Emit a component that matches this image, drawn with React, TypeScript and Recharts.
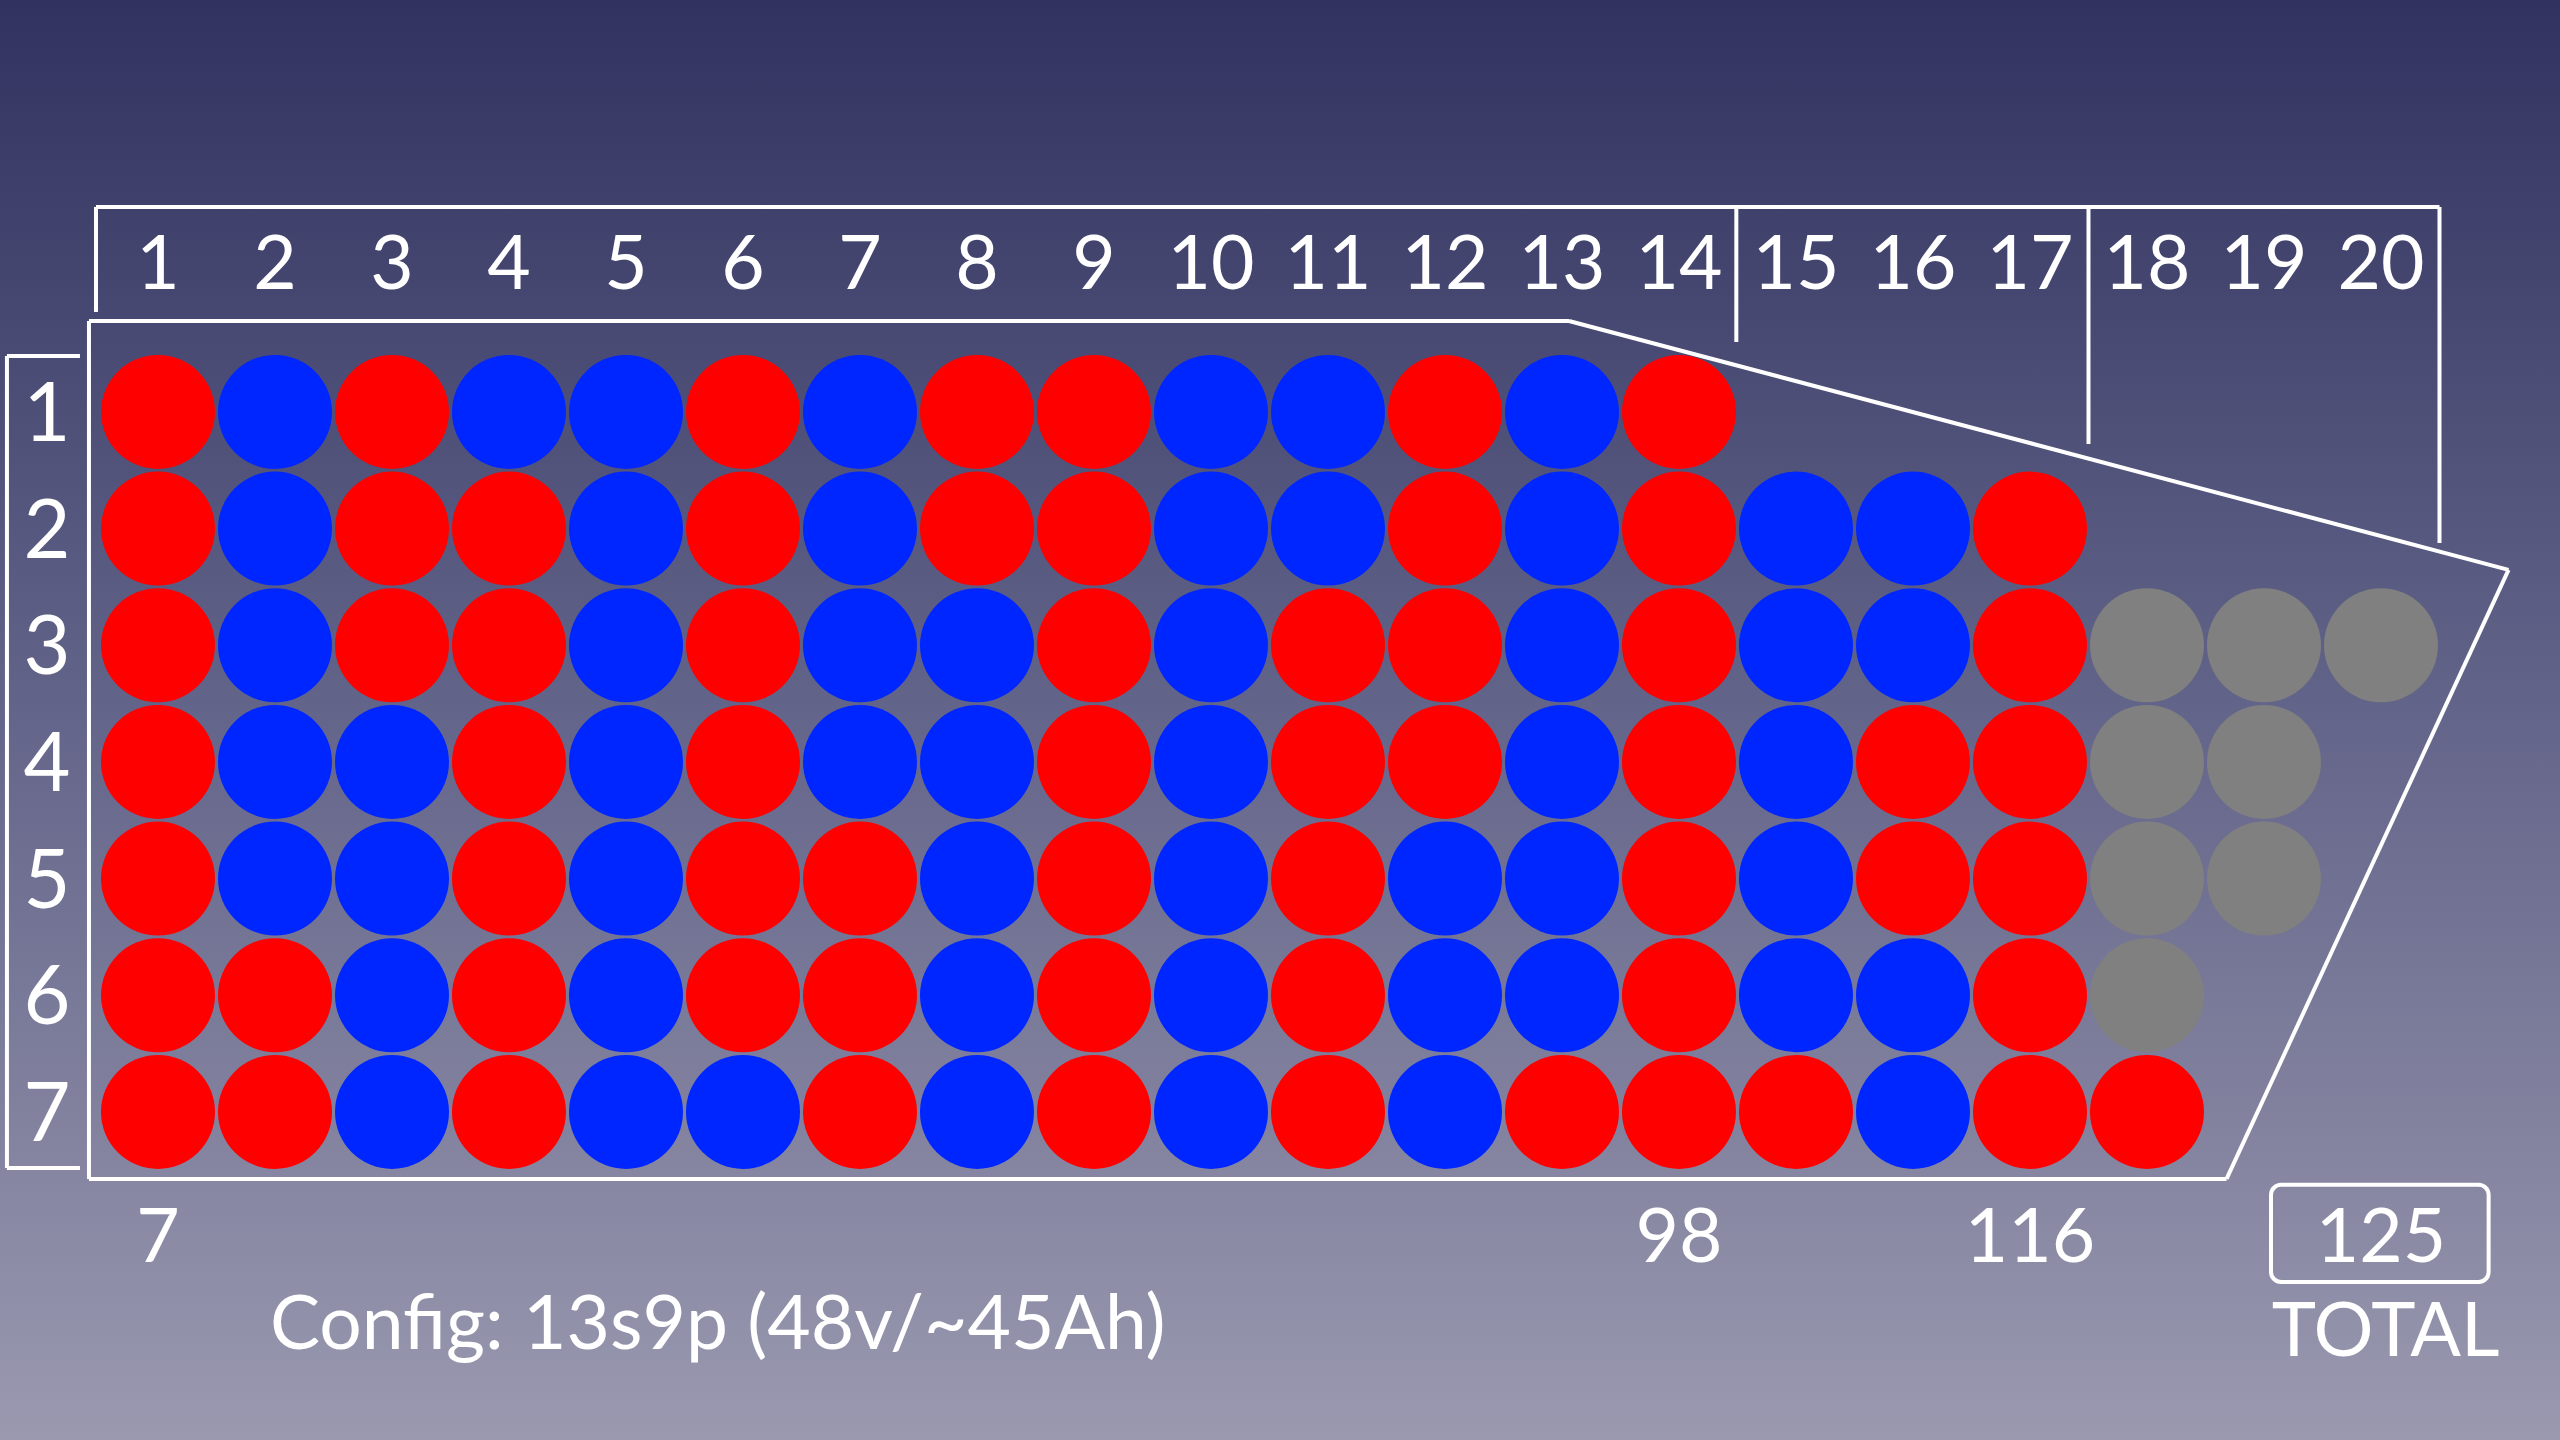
import { ScatterChart, Scatter, XAxis, YAxis, ReferenceLine, ReferenceArea } from "recharts"

const columns = [1, 2, 3, 4, 5, 6, 7, 8, 9, 10, 11, 12, 13, 14, 15, 16, 17, 18, 19, 20]
const rowNumbers = [1, 2, 3, 4, 5, 6, 7]

// R = red cell, B = blue cell, G = grey (empty slot)
const cellRows = [
  "RBRBBRBRRBBRBR",
  "RBRRBRBRRBBRBRBBR",
  "RBRRBRBBRBRRBRBBRGGG",
  "RBBRBRBBRBRRBRBRRGG",
  "RBBRBRRBRBRBBRBRRGG",
  "RRBRBRRBRBRBBRBBRG",
  "RRBRBBRBRBRBRRRBRR",
]

const runningTotals = [
  { col: 1, label: "7" },
  { col: 14, label: "98" },
  { col: 17, label: "116" },
  { col: 20, label: "125" },
]

const colors: Record<string, string> = { R: "#ff0000", B: "#0026ff", G: "#808080" }

// grid units: one column / one row apart
const X_DOMAIN = [-0.3504, 21.53]
const Y_DOMAIN = [-2.531, 9.812]

const W = 2560
const H = 1440
const FONT = "Lato, 'Open Sans', sans-serif"

const cells = cellRows.flatMap((row, r) =>
  row.split("").map((kind, c) => ({ x: c + 1, y: r + 1, kind }))
)
const colLabels = columns.map((c) => ({ x: c, y: -0.286, label: String(c), size: 75 }))
const rowLabels = rowNumbers.map((r) => ({ x: 0.051, y: r, label: String(r), size: 81 }))
const totalLabels = runningTotals.map((t) => ({ x: t.col, y: 8.054, label: t.label, size: 75 }))
const extraLabels = [
  { x: 20.04, y: 8.86, label: "TOTAL", size: 75, anchor: "middle" },
  { x: 1.957, y: 8.8, label: "Config: 13s9p (48v/~45Ah)", size: 75, anchor: "start" },
]

// outline of the pack and brackets, in grid units
const outline = [
  [0.41, 0.22], [13.06, 0.22], [21.09, 2.354], [18.68, 7.574], [0.41, 7.574], [0.41, 0.22],
]
const topBracket = [
  [[0.47, 0.143], [0.47, -0.757]],
  [[0.47, -0.757], [20.5, -0.757]],
  [[14.49, -0.757], [14.49, 0.4]],
  [[17.5, -0.757], [17.5, 1.274]],
  [[20.5, -0.757], [20.5, 2.123]],
]
const rowBracket = [
  [[0.333, 0.52], [-0.291, 0.52]],
  [[-0.291, 0.52], [-0.291, 7.48]],
  [[-0.291, 7.48], [0.333, 7.48]],
]

const segments = [
  ...outline.slice(1).map((p, i) => [outline[i], p]),
  ...topBracket,
  ...rowBracket,
]

const TextShape = (props: any) => {
  const { cx, cy, payload } = props
  return (
    <text
      x={cx}
      y={cy}
      dy={payload.size * 0.36}
      textAnchor={payload.anchor || "middle"}
      fill="#ffffff"
      fontSize={payload.size}
      fontFamily={FONT}
    >
      {payload.label}
    </text>
  )
}

const CellShape = (props: any) => {
  const { cx, cy, payload } = props
  return <circle cx={cx} cy={cy} r={57} fill={colors[payload.kind]} />
}

const TotalBox = (props: any) => {
  const { x, y, width, height } = props
  return (
    <rect x={x} y={y} width={width} height={height} rx={10} ry={10} fill="none" stroke="#ffffff" strokeWidth={4} />
  )
}

export default function App() {
  return (
    <div
      style={{
        width: W,
        height: H,
        background: "linear-gradient(to bottom, #31325f 0%, #64658a 50%, #9a99b0 100%)",
      }}
    >
      <style>{`body { margin: 0; }`}</style>
      <ScatterChart width={W} height={H} margin={{ top: 0, right: 0, bottom: 0, left: 0 }}>
        <XAxis type="number" dataKey="x" domain={X_DOMAIN} allowDataOverflow hide />
        <YAxis type="number" dataKey="y" domain={Y_DOMAIN} allowDataOverflow reversed hide />
        {segments.map((s, i) => (
          <ReferenceLine
            key={i}
            segment={[
              { x: s[0][0], y: s[0][1] },
              { x: s[1][0], y: s[1][1] },
            ]}
            stroke="#ffffff"
            strokeWidth={4}
            ifOverflow="visible"
          />
        ))}
        <ReferenceArea x1={19.06} x2={20.92} y1={7.625} y2={8.457} shape={TotalBox} ifOverflow="visible" />
        <Scatter data={cells} shape={CellShape} isAnimationActive={false} />
        <Scatter data={colLabels} shape={TextShape} isAnimationActive={false} />
        <Scatter data={rowLabels} shape={TextShape} isAnimationActive={false} />
        <Scatter data={totalLabels} shape={TextShape} isAnimationActive={false} />
        <Scatter data={extraLabels} shape={TextShape} isAnimationActive={false} />
      </ScatterChart>
    </div>
  )
}
